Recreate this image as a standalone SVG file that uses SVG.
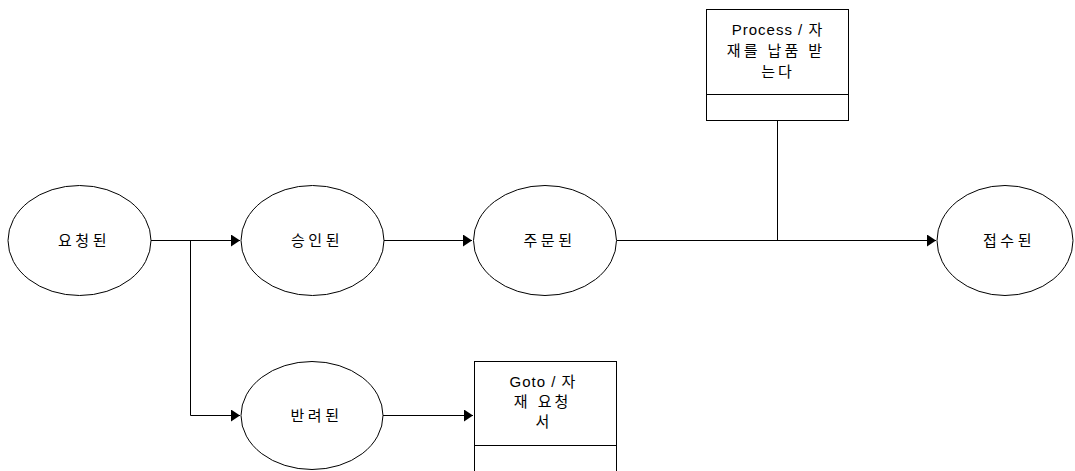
<svg xmlns="http://www.w3.org/2000/svg" width="1075" height="471" viewBox="0 0 1075 471">
  <style>
    .state { fill: #ffffff; stroke: #000000; stroke-width: 1; }
    .box { fill: #ffffff; stroke: #000000; stroke-width: 1; }
    .wire { fill: none; stroke: #000000; stroke-width: 1; }
    .lbl { font-family: "Liberation Sans", "Noto Sans CJK KR", sans-serif; font-size: 15px; fill: #000000; text-anchor: middle; letter-spacing: 3.5px; }
    .act { font-family: "Liberation Sans", "Noto Sans CJK KR", sans-serif; font-size: 15px; fill: #000000; text-anchor: middle; letter-spacing: 1px; }
    .act.ko { letter-spacing: 3px; }
  </style>
  <defs>
    <marker id="arrow" markerWidth="10" markerHeight="12" refX="9" refY="6" orient="auto" markerUnits="userSpaceOnUse">
      <path d="M0,0 L9,6 L0,12 Z" fill="#000000"/>
    </marker>
  </defs>
  <rect width="1075" height="471" fill="#ffffff"/>

  <g id="connectors">
    <path class="wire" d="M151,240.5 H240" marker-end="url(#arrow)"/>
    <path class="wire" d="M190.5,240.5 V415.5 H240" marker-end="url(#arrow)"/>
    <path class="wire" d="M384,240.5 H472" marker-end="url(#arrow)"/>
    <path class="wire" d="M617,240.5 H936" marker-end="url(#arrow)"/>
    <path class="wire" d="M777.5,121 V240.5"/>
    <path class="wire" d="M383,415.5 H473" marker-end="url(#arrow)"/>
  </g>

  <g id="requested">
    <ellipse class="state" cx="79.5" cy="240.5" rx="71.5" ry="55"/>
    <text class="lbl" x="84" y="246">요청된</text>
  </g>

  <g id="approved">
    <ellipse class="state" cx="312.5" cy="240.5" rx="71.5" ry="55"/>
    <text class="lbl" x="317" y="246">승인된</text>
  </g>

  <g id="ordered">
    <ellipse class="state" cx="545" cy="240.5" rx="71.5" ry="55"/>
    <text class="lbl" x="549.5" y="246">주문된</text>
  </g>

  <g id="received">
    <ellipse class="state" cx="1005" cy="240.5" rx="68" ry="55"/>
    <text class="lbl" x="1009" y="246">접수된</text>
  </g>

  <g id="rejected">
    <ellipse class="state" cx="312" cy="415.5" rx="71" ry="54"/>
    <text class="lbl" x="316.5" y="421">반려된</text>
  </g>

  <g id="process-receive">
    <rect class="box" x="706.5" y="9.5" width="142" height="111"/>
    <line class="wire" x1="706.5" y1="94.5" x2="848.5" y2="94.5"/>
    <text class="act" x="777.5" y="35">Process / 자</text>
    <text class="act ko" x="776" y="56">재를 납품 받</text>
    <text class="act ko" x="778" y="77">는다</text>
  </g>

  <g id="goto-request">
    <rect class="box" x="474.5" y="361.5" width="142" height="115"/>
    <line class="wire" x1="474.5" y1="445.5" x2="616.5" y2="445.5"/>
    <text class="act" x="543" y="387">Goto / 자</text>
    <text class="act ko" x="542.5" y="407">재 요청</text>
    <text class="act ko" x="544" y="427">서</text>
  </g>
</svg>
